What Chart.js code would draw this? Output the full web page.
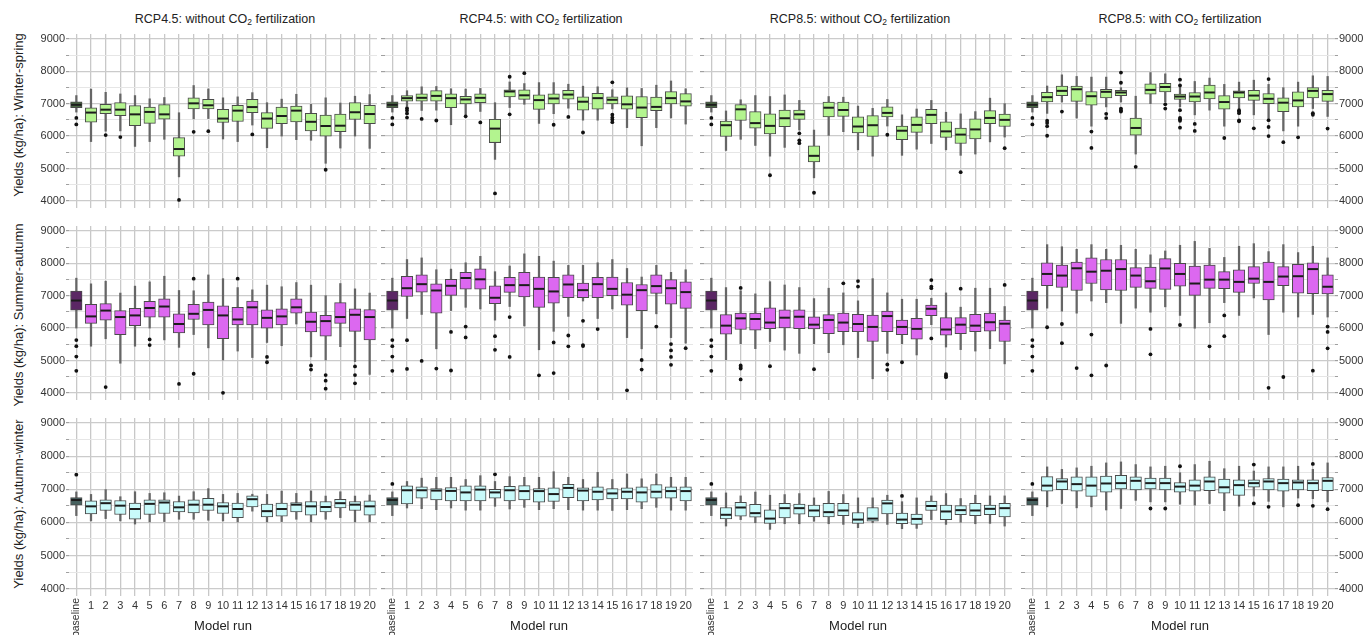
<!DOCTYPE html>
<html>
<head>
<meta charset="utf-8">
<title>Yields by model run</title>
<script src="https://cdn.jsdelivr.net/npm/chart.js@4.4.1/dist/chart.umd.min.js"></script>
<style>
  html, body { margin: 0; padding: 0; background: #fff; }
  body { position: relative; width: 1363px; height: 635px; overflow: hidden;
         font-family: "Liberation Sans", Arial, sans-serif; color: #222; }
  canvas { position: absolute; }
  .title { position: absolute; top: 12px; transform: translateX(-50%); font-size: 12.5px; white-space: nowrap; }
  .title sub { font-size: 8.5px; vertical-align: -2px; line-height: 0; }
  .ytitle { position: absolute; left: 18px; font-size: 13px; white-space: nowrap;
            transform: translate(-50%, -50%) rotate(-90deg); }
</style>
</head>
<body>
<script>
// Model runs on the x axis and y-axis gridline values
const runLabels = ['baseline', '1', '2', '3', '4', '5', '6', '7', '8', '9', '10',
  '11', '12', '13', '14', '15', '16', '17', '18', '19', '20'];
const yTicks = [4000, 4500, 5000, 5500, 6000, 6500, 7000, 7500, 8000, 8500, 9000];
const seasons = ['Winter-spring', 'Summer-autumn', 'Autumn-winter'];
const scenarios = ['RCP4.5', 'RCP4.5', 'RCP8.5', 'RCP8.5'];
const fertilization = ['without', 'with', 'without', 'with'];

// Box summaries per run: [lower whisker, Q1, median, Q3, upper whisker]
const winterSpring45Without = [
  [6740,6880,6965,7055,7250],[5830,6430,6725,6875,7450],[6150,6690,6815,6980,7350],
  [6160,6630,6815,7030,7300],[5680,6320,6670,6940,7250],[5830,6390,6745,6895,7150],
  [5900,6520,6670,6970,7190],[4740,5380,5600,5950,6720],[6530,6835,7010,7180,7560],
  [6540,6835,6950,7130,7455],[5910,6420,6540,6825,7180],[5830,6450,6785,6950,7210],
  [6340,6725,6895,7130,7340],[5640,6235,6540,6725,7030],[6000,6380,6620,6895,7140],
  [5890,6440,6785,6925,7290],[5870,6155,6440,6705,6980],[5160,6000,6310,6650,7180],
  [5630,6135,6320,6680,7020],[6000,6510,6735,7030,7230],[5620,6380,6680,6950,7280]];
const winterSpring45WithoutOutliers = [[6560,6360],[],[6030],[5970],[],[],[],[4030],[6130],[6150],
  [],[],[6050],[],[],[],[],[4960],[],[],[]];

const winterSpring45With = [
  [6740,6880,6965,7055,7250],[6930,7080,7170,7250,7400],[6790,7080,7180,7300,7520],
  [6800,7080,7240,7400,7530],[6350,6880,7170,7300,7460],[6650,6990,7130,7230,7450],
  [6760,7030,7180,7300,7470],[5280,5800,6230,6520,7030],[6880,7210,7376,7425,7670],
  [6980,7130,7258,7425,7620],[6390,6825,7110,7270,7650],[6690,6990,7160,7300,7650],
  [6860,7140,7280,7415,7600],[6490,6800,7060,7210,7540],[6490,6830,7170,7320,7520],
  [6840,6990,7120,7210,7430],[6260,6830,6980,7240,7490],[5700,6570,6880,7220,7470],
  [6260,6780,6900,7200,7570],[6560,6990,7170,7370,7700],[6370,6920,7070,7310,7460]];
const winterSpring45WithOutliers = [[6560,6360],[6860,6790,6700,6570],[6530],[6480],[],[6610],[6420],
  [4230],[7830,6670],[7940],[],[6350],[6590],[6110],[],[7660,6660,6570,6510,6430],[],[],[],[],[]];

const winterSpring85Without = [
  [6740,6880,6965,7055,7250],[5555,5990,6335,6460,6775],[5900,6480,6825,6970,7120],
  [5710,6245,6400,6755,7250],[5380,6070,6315,6690,7220],[5650,6290,6550,6805,7270],
  [6185,6510,6670,6805,7100],[4710,5200,5390,5695,6185],[6020,6590,6875,7050,7220],
  [6135,6610,6805,7050,7200],[5575,6095,6295,6590,6925],[5380,5990,6335,6630,6855],
  [6310,6590,6715,6905,7130],[5405,5890,6165,6310,6655],[5595,6115,6345,6590,6835],
  [5770,6380,6655,6825,7100],[5575,5960,6145,6440,6735],[5405,5770,6045,6245,6685],
  [5445,5910,6205,6530,6755],[5820,6380,6560,6785,7170],[5970,6295,6500,6675,7000]];
const winterSpring85WithoutOutliers = [[6560,6360],[],[],[],[4790],[],[6085,5870,5780],[4250],[],[],
  [],[],[6040],[],[],[],[],[4885],[],[],[5625]];

const winterSpring85With = [
  [6740,6880,6965,7055,7250],[6700,7050,7200,7350,7545],[7050,7250,7395,7545,7890],
  [6555,7070,7445,7545,7840],[6305,6950,7230,7375,7820],[6900,7180,7365,7445,7820],
  [7050,7250,7345,7415,7495],[5445,6030,6250,6555,7230],[7000,7295,7425,7615,7960],
  [7050,7365,7515,7625,7920],[6900,7130,7220,7295,7500],[6655,7050,7220,7345,7685],
  [6800,7150,7345,7575,7790],[6305,6830,7050,7250,7595],[6850,7180,7345,7395,7665],
  [6655,7100,7250,7415,7725],[6555,7000,7150,7315,7595],[6160,6755,7030,7180,7495],
  [6305,6900,7100,7365,7665],[6850,7180,7395,7495,7860],[6605,7070,7295,7415,7840]];
const winterSpring85WithOutliers = [[6560,6360],[6475,6405,6305,6010],[6755],[],[6140,5635],[6685,6555],
  [7960,7645,6850,6800,6755],[5050],[],[6980,6850],[7740,7560,6800,6560,6520,6470,6260],[6375,6160],
  [],[5940],[6800,6755,6705,6485,6455],[6240],[7760,6490,6280,6000],[5810],[5960],[6705,6655],[6230]];

const summerAutumn45Without = [
  [6000,6555,6850,7145,7540],[5440,6145,6360,6735,7365],[5670,6245,6540,6755,7445],
  [4915,5800,6340,6540,7080],[5440,6075,6390,6610,7295],[6000,6340,6620,6825,7425],
  [5635,6340,6665,6905,7600],[5405,5850,6125,6440,7160],[5800,6265,6440,6735,7150],
  [5390,6095,6560,6805,7640],[5015,5675,6390,6685,7525],[5290,6095,6265,6640,7250],
  [5090,6095,6640,6835,7180],[5555,6000,6315,6560,7325],[5455,6095,6360,6590,7275],
  [6125,6460,6640,6905,7405],[5110,5880,6195,6490,7325],[5015,5750,6215,6390,7000],
  [5425,6145,6340,6785,7375],[4965,5900,6410,6590,7210],[4570,5635,6340,6570,7080]];
const summerAutumn45WithoutOutliers = [[5630,5440,5120,4680],[],[4180],[],[],[5650,5475],[],[4275],
  [7525,4590],[],[4000],[7525],[],[5110,4945],[],[],[4845,4720],[4550,4375,4130],[],[4815,4550,4295],[]];

const summerAutumn45With = [
  [6000,6555,6850,7145,7540],[6295,6980,7230,7600,8115],[6420,7110,7355,7640,8165],
  [5360,6460,7160,7365,7800],[6540,7010,7305,7505,7820],[6640,7200,7545,7720,8015],
  [6590,7200,7505,7830,8215],[6245,6755,6935,7305,7740],[6665,7100,7325,7565,7915],
  [6065,6960,7325,7720,8290],[5330,6640,7210,7575,8215],[5900,6765,7130,7565,8065],
  [6360,6935,7345,7640,7935],[6835,6935,7170,7385,7935],[6295,6935,7355,7565,8015],
  [6590,7000,7210,7575,8115],[5705,6705,7030,7405,7840],[5360,6540,7170,7345,7575],
  [6440,7070,7295,7640,7935],[5705,6735,7230,7495,7720],[5535,6610,7110,7425,7800]];
const summerAutumn45WithOutliers = [[5630,5440,5120,4680],[5625,4740],[4985],[4750],[5880,4690],
  [6045,5710],[],[5750,5330],[6340,5110],[],[4540],[5555,4610],[5770,5435],[6225,5475,5445],[5970],
  [],[4080],[5015,4720],[6045],[5505,5310,5110,4865],[5380]];

const summerAutumn85Without = [
  [6000,6555,6850,7145,7540],[5025,5810,6075,6415,7250],[5515,5955,6300,6465,7150],
  [5365,5935,6280,6465,7055],[5585,5985,6170,6625,7430],[5320,6005,6320,6565,7330],
  [5220,5985,6350,6565,7250],[5515,5975,6105,6350,6910],[5240,5830,6250,6415,7230],
  [5485,5885,6170,6465,7085],[5090,5885,6125,6425,6840],[4435,5585,6035,6400,7525],
  [5220,5885,6370,6525,7085],[5515,5800,6035,6250,6890],[5170,5660,5975,6300,6890],
  [6105,6380,6595,6710,6920],[5415,5780,5955,6320,7085],[5335,5830,6105,6320,6645],
  [5290,5885,6075,6425,7230],[5365,5905,6180,6465,7230],[4895,5585,6135,6250,6665]];
const summerAutumn85WithoutOutliers = [[5630,5440,5120,4680],[],[7240,4845,4795,4750,4415],[],[4825],
  [],[],[4730],[],[7380],[7450,7280],[],[4875,4710],[4945],[],[7480,7280,7230,5680],[4580,4530,4485],
  [7215],[],[],[7330]];

const summerAutumn85With = [
  [6000,6555,6850,7145,7540],[6615,7305,7670,8015,8575],[6520,7255,7620,7945,8510],
  [6460,7160,7845,8035,8430],[6835,7375,7740,8165,8575],[6785,7180,7770,8115,8430],
  [6145,7160,7820,8115,8555],[6615,7255,7620,7865,8430],[6490,7225,7445,7885,8260],
  [6655,7195,7840,8145,8380],[6390,7295,7670,7995,8555],[5995,7010,7375,7915,8675],
  [6165,7225,7495,7945,8460],[6785,7215,7495,7740,8180],[6390,7100,7425,7800,8525],
  [6930,7375,7525,7895,8605],[5800,6865,7425,8035,8360],[6490,7305,7590,7895,8575],
  [6340,7080,7600,7965,8330],[6420,7060,7820,8015,8525],[6340,7050,7275,7640,8165]];
const summerAutumn85WithOutliers = [[5630,5440,5120,4680],[6025],[6125,5535],[4765],[5800,4540],[4845],
  [],[],[5975,5190],[],[6095],[],[5435],[6390,5750],[],[],[4155],[4490],[],[4685],[6045,5880,5375]];

const autumnWinter45Without = [
  [6205,6520,6675,6750,6920],[6045,6260,6485,6650,6845],[6115,6360,6580,6680,6990],
  [6045,6240,6505,6660,6775],[5950,6095,6405,6580,6925],[6015,6240,6560,6680,6875],
  [6025,6270,6600,6680,6895],[6095,6320,6455,6630,6795],[6095,6290,6535,6680,6925],
  [6065,6360,6535,6730,7020],[6045,6270,6485,6600,6845],[6015,6145,6405,6580,6875],
  [6340,6465,6700,6805,6850],[6015,6165,6340,6555,6845],[6025,6190,6405,6580,6945],
  [6095,6320,6535,6600,6875],[6015,6220,6485,6630,6950],[6095,6320,6465,6630,6795],
  [6145,6435,6580,6700,6925],[6015,6360,6535,6630,6795],[6015,6220,6485,6650,6825]];
const autumnWinter45WithoutOutliers = [[7440],[],[],[],[],[],[],[],[],[],[],[],[],[],[],[],[],[],[],[],[]];

const autumnWinter45With = [
  [6205,6520,6675,6750,6920],[6435,6555,6970,7100,7235],[6415,6730,6970,7070,7335],
  [6385,6680,6960,7020,7360],[6435,6650,6950,7050,7360],[6370,6650,6905,7100,7295],
  [6370,6650,6990,7100,7410],[6485,6730,6905,7000,7235],[6405,6650,6970,7090,7380],
  [6455,6680,6945,7110,7360],[6385,6610,6945,7020,7360],[6415,6630,6855,7040,7530],
  [6385,6750,7040,7150,7360],[6370,6650,6960,7040,7295],[6370,6680,6925,7070,7510],
  [6360,6710,6875,7020,7295],[6385,6710,6925,7040,7460],[6415,6610,6905,7070,7315],
  [6455,6730,6925,7140,7460],[6370,6730,6945,7070,7360],[6370,6650,6945,7070,7360]];
const autumnWinter45WithOutliers = [[7160],[],[],[],[],[],[],[7450],[],[],[],[],[],[],[],[],[],[],[],[],[]];

const autumnWinter85Without = [
  [6205,6520,6675,6750,6920],[5890,6105,6230,6450,6890],[6085,6185,6450,6605,6800],
  [5990,6155,6280,6545,6915],[5790,5970,6115,6380,6820],[5960,6135,6430,6575,6840],
  [5960,6250,6430,6555,6870],[6035,6165,6360,6525,6740],[5960,6165,6310,6575,6935],
  [5940,6205,6360,6575,6840],[5840,5970,6085,6300,6740],[5990,6035,6115,6450,6740],
  [5940,6260,6575,6675,6820],[5810,5960,6085,6280,6625],[5820,5940,6105,6250,6740],
  [6085,6360,6495,6645,6800],[5940,6085,6330,6525,6870],[6005,6230,6370,6505,6720],
  [5960,6205,6360,6575,6820],[5970,6230,6410,6525,6800],[5890,6165,6430,6575,6800]];
const autumnWinter85WithoutOutliers = [[7160],[],[],[],[],[],[],[],[],[],[],[],[],[6800],[],[],[],[],[],[],[]];

const autumnWinter85With = [
  [6205,6520,6675,6750,6920],[6470,6940,7110,7380,7675],[6570,6990,7235,7325,7600],
  [6440,6940,7155,7375,7645],[6470,6785,7110,7375,7695],[6375,6910,7175,7400,7795],
  [6420,7010,7185,7420,7825],[6665,6980,7255,7375,7745],[6620,7010,7185,7335,7675],
  [6620,6980,7185,7335,7695],[6550,6910,7080,7205,7500],[6520,6940,7110,7285,7745],
  [6570,6960,7235,7375,7845],[6355,6880,7060,7305,7620],[6490,6815,7125,7285,7695],
  [6795,7060,7185,7285,7550],[6635,6980,7235,7325,7675],[6470,6940,7185,7305,7675],
  [6735,6980,7205,7285,7695],[6715,6960,7185,7285,7600],[6620,6960,7255,7355,7795]];
const autumnWinter85WithOutliers = [[7160],[],[],[],[],[],[],[],[6420],[6420],[7695],[],[],[],[],
  [7745,6570],[6470],[],[6520],[7765,6500],[6400]];

// Box fills per season: model runs, then the darker baseline box
const runFills = ['#b3f48f', '#dc68f0', '#c8fafa'];
const baselineFills = ['#4b6a45', '#5b2764', '#46615f'];

// Panel grid geometry (plot areas in page pixels)
const FONT_FAMILY = '"Liberation Sans", Arial, sans-serif';
const ROW_TOP = [30, 222, 414];
const PLOT_H = 182;
const COL_LEFT = [69, 385, 704, 1025];
const PLOT_W = [312, 312, 312, 310];
const X_AXIS_H = 39;
const EDGE_TICK = 4;
const Y_MIN = 3780, Y_MAX = 9150;

const panels = [
  [winterSpring45Without, winterSpring45WithoutOutliers, winterSpring45With, winterSpring45WithOutliers,
   winterSpring85Without, winterSpring85WithoutOutliers, winterSpring85With, winterSpring85WithOutliers],
  [summerAutumn45Without, summerAutumn45WithoutOutliers, summerAutumn45With, summerAutumn45WithOutliers,
   summerAutumn85Without, summerAutumn85WithoutOutliers, summerAutumn85With, summerAutumn85WithOutliers],
  [autumnWinter45Without, autumnWinter45WithoutOutliers, autumnWinter45With, autumnWinter45WithOutliers,
   autumnWinter85Without, autumnWinter85WithoutOutliers, autumnWinter85With, autumnWinter85WithOutliers]
];

// Medians and the rotated "baseline" tick label are drawn on top of the bars
function boxExtras(stats, showBaseline) {
  return {
    id: 'boxExtras',
    afterDatasetsDraw(chart) {
      const meta = chart.getDatasetMeta(1);
      const yScale = chart.scales.y;
      const ctx = chart.ctx;
      ctx.save();
      ctx.strokeStyle = '#1c1c1c';
      ctx.lineWidth = 2;
      meta.data.forEach((bar, i) => {
        const py = yScale.getPixelForValue(stats[i][2]);
        ctx.beginPath();
        ctx.moveTo(bar.x - bar.width / 2 + 0.5, py);
        ctx.lineTo(bar.x + bar.width / 2 - 0.5, py);
        ctx.stroke();
      });
      ctx.restore();
    },
    afterDraw(chart) {
      if (!showBaseline) return;
      const ctx = chart.ctx;
      const x = chart.scales.x.getPixelForValue(0);
      ctx.save();
      ctx.translate(x, chart.chartArea.bottom + 2);
      ctx.rotate(-Math.PI / 2);
      ctx.textAlign = 'right';
      ctx.textBaseline = 'middle';
      ctx.font = '10.5px ' + FONT_FAMILY;
      ctx.fillStyle = '#333';
      ctx.fillText(runLabels[0], 0, 0);
      ctx.restore();
    }
  };
}

const isMajor = ctx => ctx.tick && ctx.tick.value % 1000 === 0;

function makePanel(r, c) {
  const stats = panels[r][c * 2];
  const outliers = panels[r][c * 2 + 1];
  const showX = r === 2;
  const showY = c === 0 || c === 3;
  const left = c === 0 ? 0 : COL_LEFT[c] - EDGE_TICK;
  const right = c === 3 ? 1363 : COL_LEFT[c] + PLOT_W[c];
  const width = right - left;
  const height = PLOT_H + (showX ? X_AXIS_H : 0);

  const cv = document.createElement('canvas');
  cv.width = width;
  cv.height = height;
  cv.style.left = left + 'px';
  cv.style.top = ROW_TOP[r] + 'px';
  cv.style.width = width + 'px';
  cv.style.height = height + 'px';
  document.body.appendChild(cv);

  const points = [];
  outliers.forEach((vals, i) => vals.forEach(v => points.push({ x: runLabels[i], y: v })));

  const scales = {
    x: {
      type: 'category',
      offset: true,
      grid: { offset: false, color: '#c8c8c8', lineWidth: 1.3, drawTicks: false },
      border: { display: false },
      ticks: {
        display: showX, autoSkip: false, maxRotation: 0, minRotation: 0, padding: 3,
        color: '#333', font: { family: FONT_FAMILY, size: 11 },
        callback: (v, i) => i === 0 ? '' : runLabels[i]
      },
      title: {
        display: showX, text: 'Model run', color: '#222',
        font: { family: FONT_FAMILY, size: 13 }, padding: { top: 0, bottom: 1 }
      },
      afterFit: s => { s.height = showX ? X_AXIS_H : 0; s.paddingLeft = 0; s.paddingRight = 0; }
    },
    y: {
      type: 'linear',
      min: Y_MIN,
      max: Y_MAX,
      position: c === 3 ? 'right' : 'left',
      afterBuildTicks: s => { s.ticks = yTicks.map(v => ({ value: v })); },
      grid: {
        color: ctx => isMajor(ctx) ? '#cbcbcb' : '#e6e6e6',
        lineWidth: ctx => isMajor(ctx) ? 1.2 : 1,
        drawTicks: true, tickLength: c === 0 || c === 3 ? 3 : EDGE_TICK, tickColor: '#a0a0a0'
      },
      border: { display: false },
      ticks: {
        display: showY, padding: 1, color: '#333', font: { family: FONT_FAMILY, size: 11 },
        callback: v => v % 1000 === 0 ? String(v) : ''
      },
      afterFit: s => {
        s.width = c === 0 ? COL_LEFT[0] : (c === 3 ? 1363 - COL_LEFT[3] - PLOT_W[3] : EDGE_TICK);
        s.paddingTop = 0; s.paddingBottom = 0;
      }
    }
  };
  if (c === 3) {
    // short tick marks on the left edge of the right-hand panel
    scales.yEdge = {
      type: 'linear', min: Y_MIN, max: Y_MAX, position: 'left',
      afterBuildTicks: s => { s.ticks = yTicks.map(v => ({ value: v })); },
      grid: { drawOnChartArea: false, drawTicks: true, tickLength: EDGE_TICK, tickColor: '#a0a0a0' },
      border: { display: false },
      ticks: { display: false },
      afterFit: s => { s.width = EDGE_TICK; s.paddingTop = 0; s.paddingBottom = 0; }
    };
  }

  new Chart(cv, {
    type: 'bar',
    data: {
      labels: runLabels,
      datasets: [
        {
          type: 'bar',
          data: stats.map(s => [s[0], s[4]]),
          backgroundColor: '#666666',
          borderWidth: 0,
          barThickness: 1.6,
          grouped: false,
          order: 3
        },
        {
          type: 'bar',
          data: stats.map(s => [s[1], s[3]]),
          backgroundColor: stats.map((s, i) => i === 0 ? baselineFills[r] : runFills[r]),
          borderColor: '#4a4a4a',
          borderWidth: 1,
          borderSkipped: false,
          barThickness: 11.5,
          grouped: false,
          order: 2
        },
        {
          type: 'scatter',
          data: points,
          pointRadius: 1.9,
          pointBackgroundColor: '#111',
          pointBorderWidth: 0,
          order: 1
        }
      ]
    },
    options: {
      responsive: false,
      animation: false,
      events: [],
      layout: { padding: 0 },
      plugins: { legend: { display: false }, tooltip: { enabled: false }, title: { display: false } },
      scales
    },
    plugins: [boxExtras(stats, showX)]
  });
}

// Column headings and row axis titles
for (let c = 0; c < 4; c++) {
  const d = document.createElement('div');
  d.className = 'title';
  d.style.left = (COL_LEFT[c] + PLOT_W[c] / 2) + 'px';
  d.innerHTML = scenarios[c] + ': ' + fertilization[c] + ' CO<sub>2</sub> fertilization';
  document.body.appendChild(d);
}
const Y_TITLE_CENTER = [115, 315, 504];
for (let r = 0; r < 3; r++) {
  const d = document.createElement('div');
  d.className = 'ytitle';
  d.style.top = Y_TITLE_CENTER[r] + 'px';
  d.textContent = 'Yields (kg/ha): ' + seasons[r];
  document.body.appendChild(d);
}

for (let r = 0; r < 3; r++) {
  for (let c = 0; c < 4; c++) makePanel(r, c);
}
</script>
</body>
</html>
